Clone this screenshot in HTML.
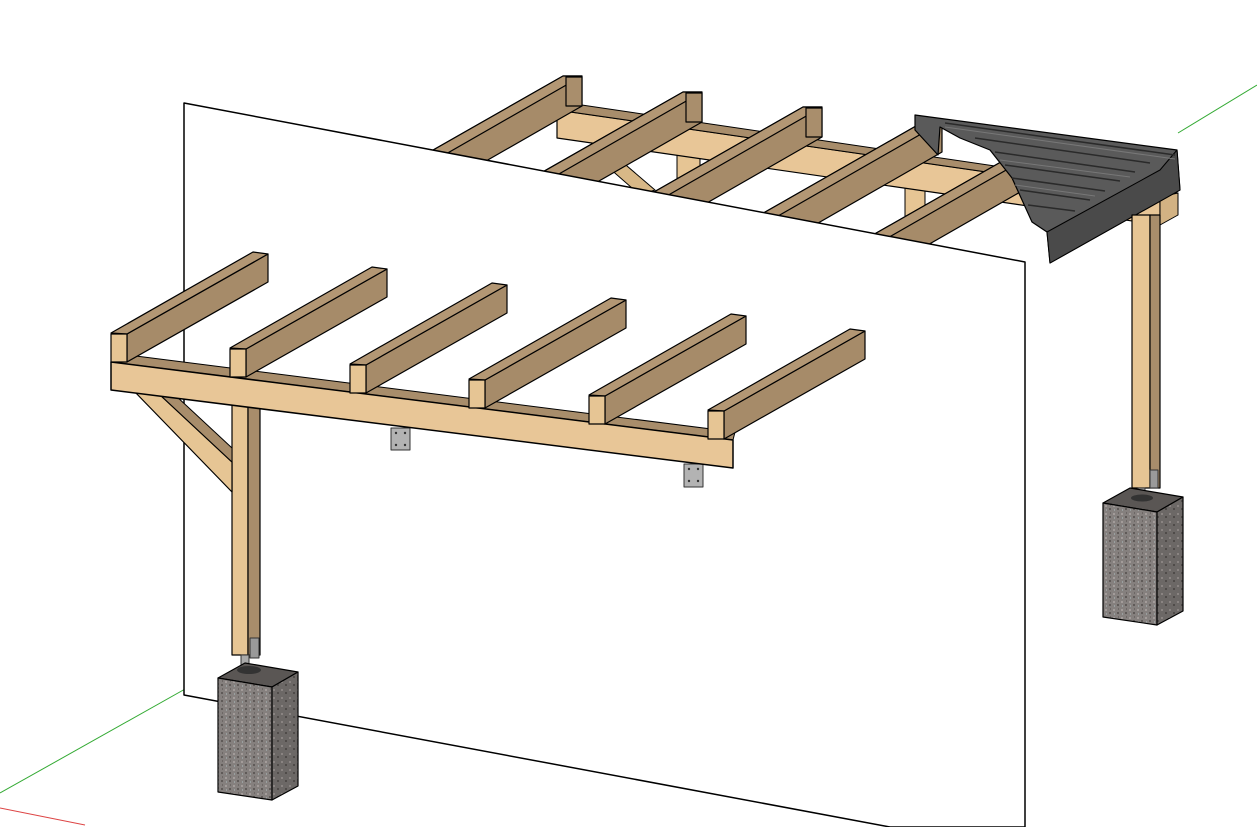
<!DOCTYPE html>
<html><head><meta charset="utf-8"><style>
html,body{margin:0;padding:0;background:#fff;}
svg{display:block;}
</style></head><body>
<svg width="1257" height="827" viewBox="0 0 1257 827" xmlns="http://www.w3.org/2000/svg">
<defs>
<pattern id="gran" width="8" height="8" patternUnits="userSpaceOnUse">
<rect width="8" height="8" fill="#85807e"/>
<rect x="1" y="1" width="2" height="2" fill="#a39c9a"/>
<rect x="5" y="4" width="2" height="2" fill="#5f5a58"/>
<rect x="2" y="5" width="1" height="2" fill="#9aa0a0"/>
<rect x="6" y="0" width="1" height="2" fill="#6d6765"/>
</pattern>
<pattern id="gran2" width="8" height="8" patternUnits="userSpaceOnUse">
<rect width="8" height="8" fill="#6c6866"/>
<rect x="1" y="1" width="2" height="2" fill="#8a8482"/>
<rect x="5" y="4" width="2" height="2" fill="#4f4b49"/>
</pattern>
</defs>
<g stroke-linejoin="round">
<!-- axes -->
<line x1="0" y1="793" x2="210" y2="675" stroke="#3a3" stroke-width="1"/>
<line x1="1178" y1="133" x2="1257" y2="85" stroke="#3a3" stroke-width="1"/>
<line x1="0" y1="808" x2="85" y2="825" stroke="#d44" stroke-width="1"/>

<!-- back structure -->
<polygon points="677,145 700,148 700,200 677,197" fill="#e6c594" stroke="#000" stroke-width="1"/>
<polygon points="905,180 925,183 925,225 905,222" fill="#e6c594" stroke="#000" stroke-width="1"/>
<polygon points="600,160 620,160 655,190 640,195" fill="#d8b887" stroke="#000" stroke-width="1"/>
<polygon points="557,110 1160,197 1160,225 557,138" fill="#e8c697" stroke="#000" stroke-width="1.2"/>
<polygon points="557,110 575,104 1178,193 1160,197" fill="#a88d6b" stroke="#000" stroke-width="1"/>
<polygon points="1160,197 1178,193 1178,215 1160,225" fill="#d2b283" stroke="#000" stroke-width="1"/>

<g stroke="#000" stroke-width="1.2">
<polygon points="563,76 582,76 582,106 282,278 263,247" fill="#a68b69"/>
<polygon points="563,76 582,76 282,248 263,247" fill="#b39774"/>
<rect x="566" y="77" width="16" height="29" fill="#a98e6c"/>
<polygon points="683,92 702,92 702,122 402,294 383,263" fill="#a68b69"/>
<polygon points="683,92 702,92 402,264 383,263" fill="#b39774"/>
<rect x="686" y="93" width="16" height="29" fill="#a98e6c"/>
<polygon points="803,107 822,107 822,137 522,309 503,278" fill="#a68b69"/>
<polygon points="803,107 822,107 522,279 503,278" fill="#b39774"/>
<rect x="806" y="108" width="16" height="29" fill="#a98e6c"/>
<polygon points="923,122 942,122 942,152 642,324 623,293" fill="#a68b69"/>
<polygon points="923,122 942,122 642,294 623,293" fill="#b39774"/>
<polygon points="1043,138 1062,138 1062,168 762,340 743,309" fill="#a68b69"/>
<polygon points="1043,138 1062,138 762,310 743,309" fill="#b39774"/>
</g>

<!-- roof sheet -->
<polygon points="915,115 1177,150 1180,190 1050,263 1047,232 1032,222 1012,178 990,150 960,138 940,127 938,155 915,130" fill="#5a5a5a" stroke="#000" stroke-width="1.2"/>
<polygon points="1180,190 1050,263 1047,232 1160,170 1177,150" fill="#4a4a4a" stroke="#000" stroke-width="1"/>
<g stroke="#2a2a2a" stroke-width="1.5">
<line x1="945" y1="123" x2="1175" y2="155"/>
<line x1="975" y1="138" x2="1150" y2="163"/>
<line x1="995" y1="152" x2="1135" y2="172"/>
<line x1="1005" y1="165" x2="1120" y2="181"/>
<line x1="1012" y1="178" x2="1105" y2="191"/>
<line x1="1020" y1="190" x2="1090" y2="200"/>
<line x1="1028" y1="205" x2="1075" y2="211"/>
</g>
<g stroke="#777" stroke-width="1">
<line x1="945" y1="127" x2="1175" y2="159"/>
<line x1="1000" y1="160" x2="1130" y2="177"/>
<line x1="1015" y1="185" x2="1095" y2="196"/>
</g>

<!-- wall -->
<polygon points="184,103 1025,262 1025,827 890,827 184,695" fill="#fff" stroke="#000" stroke-width="1.5"/>

<!-- plates -->
<rect x="391" y="428" width="19" height="22" fill="#b3b3b3" stroke="#333" stroke-width="1"/>
<circle cx="396" cy="433" r="1.2" fill="#333"/><circle cx="405" cy="433" r="1.2" fill="#333"/>
<circle cx="396" cy="445" r="1.2" fill="#333"/><circle cx="405" cy="445" r="1.2" fill="#333"/>
<rect x="684" y="464" width="19" height="23" fill="#b3b3b3" stroke="#333" stroke-width="1"/>
<circle cx="689" cy="469" r="1.2" fill="#333"/><circle cx="698" cy="469" r="1.2" fill="#333"/>
<circle cx="689" cy="481" r="1.2" fill="#333"/><circle cx="698" cy="481" r="1.2" fill="#333"/>

<!-- right post and block -->
<rect x="1132" y="215" width="18" height="273" fill="#e6c594" stroke="#000" stroke-width="1.2"/>
<rect x="1150" y="215" width="10" height="273" fill="#a88d6b" stroke="#000" stroke-width="1.2"/>
<rect x="1150" y="470" width="8" height="18" fill="#9a9a9a" stroke="#333" stroke-width="1"/>
<rect x="1138" y="488" width="7" height="12" fill="#aaa" stroke="#333" stroke-width="1"/>
<polygon points="1103,503 1130,488 1183,497 1157,512" fill="#5a5654" stroke="#000" stroke-width="1.2"/>
<ellipse cx="1142" cy="498" rx="11" ry="3.5" fill="#333"/>
<polygon points="1103,503 1157,512 1157,625 1103,617" fill="url(#gran)" stroke="#000" stroke-width="1.2"/>
<polygon points="1157,512 1183,497 1183,611 1157,625" fill="url(#gran2)" stroke="#000" stroke-width="1.2"/>

<!-- left post, brace, block -->
<rect x="232" y="395" width="16" height="260" fill="#e6c594" stroke="#000" stroke-width="1.2"/>
<rect x="248" y="397" width="12" height="258" fill="#a88d6b" stroke="#000" stroke-width="1.2"/>
<rect x="250" y="638" width="9" height="20" fill="#9a9a9a" stroke="#333" stroke-width="1"/>
<rect x="241" y="655" width="8" height="14" fill="#aaa" stroke="#333" stroke-width="1"/>
<polygon points="133,390 158,393 232,462 232,492" fill="#e6c594" stroke="#000" stroke-width="1.2"/>
<polygon points="158,393 175,395 232,448 232,462" fill="#a88d6b" stroke="#000" stroke-width="1"/>
<polygon points="218,678 245,663 298,672 272,687" fill="#5a5654" stroke="#000" stroke-width="1.2"/>
<ellipse cx="249" cy="670" rx="12" ry="4" fill="#333"/>
<polygon points="218,678 272,687 272,800 218,792" fill="url(#gran)" stroke="#000" stroke-width="1.2"/>
<polygon points="272,687 298,672 298,786 272,800" fill="url(#gran2)" stroke="#000" stroke-width="1.2"/>

<!-- front beam -->
<polygon points="111,362 128,355 735,432 733,440" fill="#a88d6b" stroke="#000" stroke-width="1"/>
<polygon points="111,362 733,440 733,468 111,390" fill="#e8c697" stroke="#000" stroke-width="1.5"/>

<!-- front rafters -->
<g stroke="#000" stroke-width="1.2">
<polygon points="127,334 268,254 268,282 127,362" fill="#a68b69"/>
<polygon points="111,333 253,252 268,254 127,334" fill="#b39774"/>
<rect x="111" y="334" width="16" height="28" fill="#e6c594"/>
<polygon points="246,349 387,269 387,297 246,377" fill="#a68b69"/>
<polygon points="230,348 372,267 387,269 246,349" fill="#b39774"/>
<rect x="230" y="349" width="16" height="28" fill="#e6c594"/>
<polygon points="366,365 507,285 507,313 366,393" fill="#a68b69"/>
<polygon points="350,364 492,283 507,285 366,365" fill="#b39774"/>
<rect x="350" y="365" width="16" height="28" fill="#e6c594"/>
<polygon points="485,380 626,300 626,328 485,408" fill="#a68b69"/>
<polygon points="469,379 611,298 626,300 485,380" fill="#b39774"/>
<rect x="469" y="380" width="16" height="28" fill="#e6c594"/>
<polygon points="605,396 746,316 746,344 605,424" fill="#a68b69"/>
<polygon points="589,395 731,314 746,316 605,396" fill="#b39774"/>
<rect x="589" y="396" width="16" height="28" fill="#e6c594"/>
<polygon points="724,411 865,331 865,359 724,439" fill="#a68b69"/>
<polygon points="708,410 850,329 865,331 724,411" fill="#b39774"/>
<rect x="708" y="411" width="16" height="28" fill="#e6c594"/>
</g>
</g>
</svg>
</body></html>
